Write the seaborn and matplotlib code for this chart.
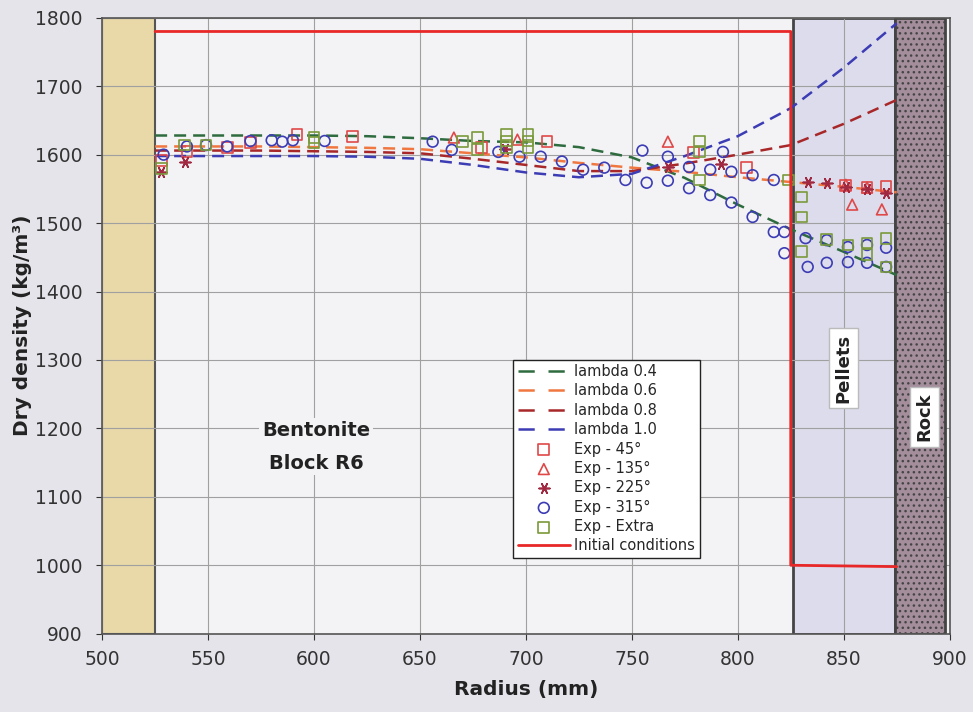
import matplotlib
matplotlib.use("Agg")
import matplotlib.pyplot as plt
from matplotlib.lines import Line2D
import seaborn as sns

# model curves (radius mm, dry density kg/m3)
model_r = [525, 550, 575, 600, 625, 650, 675, 700, 725, 750, 775, 800, 825, 850, 875]
lam04 = [1628, 1628, 1628, 1628, 1627, 1624, 1620, 1618, 1611, 1596, 1566, 1527, 1491, 1458, 1424]
lam06 = [1612, 1612, 1612, 1611, 1610, 1608, 1602, 1596, 1588, 1581, 1575, 1567, 1560, 1553, 1545]
lam08 = [1606, 1606, 1606, 1605, 1604, 1602, 1594, 1585, 1576, 1576, 1587, 1600, 1614, 1645, 1680]
lam10 = [1598, 1598, 1598, 1598, 1597, 1594, 1585, 1574, 1567, 1572, 1598, 1627, 1668, 1727, 1792]

# experimental points
exp45_r = [528, 540, 559, 570, 592, 618, 679, 710, 779, 804, 851, 861, 870]
exp45_d = [1592, 1605, 1610, 1618, 1630, 1626, 1610, 1619, 1603, 1581, 1555, 1552, 1553]

exp135_r = [666, 696, 767, 851, 854, 861, 868]
exp135_d = [1625, 1622, 1619, 1556, 1527, 1552, 1520]

exp225_r = [528, 539, 690, 767, 792, 833, 842, 851, 861, 870]
exp225_d = [1575, 1590, 1608, 1582, 1586, 1560, 1559, 1553, 1550, 1544]

exp315_r = [529, 540, 549, 559, 570, 580, 585, 590, 605, 656, 665, 687, 697, 707, 717,
            727, 737, 747, 755, 757, 767, 767, 777, 777, 787, 787, 793, 797, 797, 807,
            807, 817, 817, 822, 822, 832, 842, 852, 861, 870, 833, 842, 852, 861, 870]
exp315_d = [1600, 1612, 1614, 1612, 1620, 1621, 1619, 1621, 1620, 1619, 1607, 1604, 1597, 1597, 1590,
            1578, 1581, 1563, 1606, 1559, 1597, 1562, 1582, 1551, 1578, 1541, 1604, 1575, 1530, 1570,
            1509, 1563, 1487, 1487, 1456, 1478, 1475, 1465, 1468, 1464, 1436, 1442, 1443, 1442, 1436]

extra_r = [528, 539, 549, 600, 600, 670, 677, 677, 691, 691, 691, 701, 701, 701,
           782, 782, 782, 824, 830, 830, 830, 842, 852, 861, 861, 870, 870]
extra_d = [1580, 1614, 1614, 1625, 1618, 1619, 1625, 1607, 1630, 1620, 1610, 1630, 1620, 1610,
           1620, 1604, 1563, 1563, 1538, 1509, 1458, 1476, 1468, 1471, 1454, 1478, 1436]

init_r = [525, 825, 825, 875]
init_d = [1780, 1780, 1000, 998]

sns.set_style("whitegrid")
plt.rcParams["font.family"] = ["DejaVu Sans"]

fig = plt.figure(figsize=(9.73, 7.12), dpi=100, facecolor="#e4e4ea")
ax = fig.add_axes([0.105, 0.11, 0.871, 0.865])
ax.set_facecolor("#f3f3f6")

# zones
ax.axvspan(500, 525, facecolor="#e9d9a9", edgecolor="#555555", lw=1.5, zorder=0.3)
ax.axvspan(826, 874, facecolor="#dcdcec", edgecolor="#444444", lw=2, zorder=0.3)
ax.axvspan(874, 898, facecolor="#a48e9c", edgecolor="#444444", hatch="...", lw=2, zorder=2)

model_cols = ["#2e6b3e", "#f07840", "#a8282a", "#3c3cb4"]
dash = (0, (4.8, 2.8))
for vals, col, lab in zip([lam04, lam06, lam08, lam10], model_cols,
                          ["lambda 0.4", "lambda 0.6", "lambda 0.8", "lambda 1.0"]):
    sns.lineplot(x=model_r, y=vals, ax=ax, color=col, lw=1.8, linestyle=dash,
                 label=lab, sort=False, estimator=None, zorder=3)

for rr, dd, mk, col, lab in [(exp45_r, exp45_d, "s", "#e04848", "Exp - 45°"),
                             (exp135_r, exp135_d, "^", "#e04848", "Exp - 135°"),
                             (exp225_r, exp225_d, (6, 2, 30), "#a02840", "Exp - 225°"),
                             (exp315_r, exp315_d, "o", "#3c3cb4", "Exp - 315°"),
                             (extra_r, extra_d, "s", "#7a9a3a", "Exp - Extra")]:
    if isinstance(mk, tuple):
        sns.scatterplot(x=rr, y=dd, ax=ax, marker=mk, s=60, color=col,
                        linewidth=1.2, label=lab, zorder=4)
    else:
        sns.scatterplot(x=rr, y=dd, ax=ax, marker=mk, s=60, facecolor="none",
                        edgecolor=col, linewidth=1.2, label=lab, zorder=4)

sns.lineplot(x=init_r, y=init_d, ax=ax, color="#e82828", lw=2,
             label="Initial conditions", sort=False, estimator=None, zorder=5)

ax.set_xlim(500, 900)
ax.set_ylim(900, 1800)
ax.set_xticks(range(500, 901, 50))
ax.set_yticks(range(900, 1801, 100))
ax.grid(True, color="#a0a0a0", lw=0.8)
ax.tick_params(labelsize=13.5, colors="#333333", length=4, left=True, bottom=True)
ax.tick_params(axis="y", pad=10)
ax.tick_params(axis="x", pad=8)
for s in ax.spines.values():
    s.set_color("#555555")
    s.set_linewidth(1.2)

ax.set_xlabel("Radius (mm)", fontsize=14.5, fontweight="bold", color="#222222", labelpad=8)
ax.set_ylabel("Dry density (kg/m³)", fontsize=14.5, fontweight="bold", color="#222222", labelpad=2)

ax.text(601, 1173, "Bentonite\nBlock R6", ha="center", va="center", fontsize=14,
        fontweight="bold", color="#222222", linespacing=1.9,
        bbox=dict(facecolor="#f3f3f6", edgecolor="none", pad=2))
ax.text(850, 1288, "Pellets", ha="center", va="center", rotation=90, fontsize=13,
        fontweight="bold", color="#222222",
        bbox=dict(facecolor="white", edgecolor="#bbbbbb", pad=4), zorder=6)
ax.text(888, 1217, "Rock", ha="center", va="center", rotation=90, fontsize=13,
        fontweight="bold", color="#222222",
        bbox=dict(facecolor="white", edgecolor="#bbbbbb", pad=4), zorder=6)

handles, labels = ax.get_legend_handles_labels()
for i, col in enumerate(model_cols):
    handles[i] = Line2D([], [], color=col, lw=1.8, linestyle=(0, (6.5, 5.5)))
ax.legend(handles, labels, loc="upper left", bbox_to_anchor=(0.485, 0.445), fontsize=10.5,
          frameon=True, fancybox=False, edgecolor="#222222", facecolor="white",
          framealpha=1, labelspacing=0.3, handlelength=3.6, handletextpad=0.3,
          borderpad=0.3, borderaxespad=0)

fig.savefig("out.png", dpi=100, facecolor=fig.get_facecolor())
